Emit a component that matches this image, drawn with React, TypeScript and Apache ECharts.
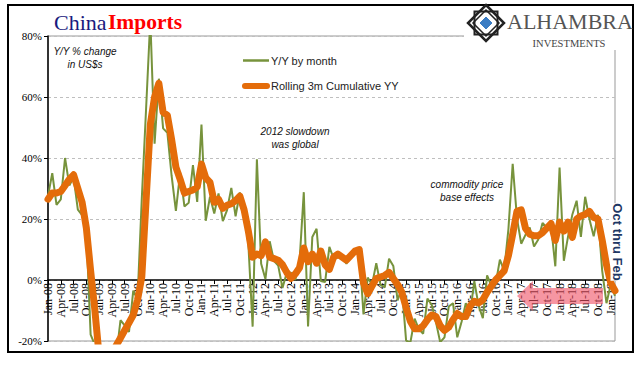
import React, { useEffect, useRef } from "react";
import * as echarts from "echarts";

const monthNames = ["Jan", "Feb", "Mar", "Apr", "May", "Jun", "Jul", "Aug", "Sep", "Oct", "Nov", "Dec"];
const yearLabels = ["08", "09", "10", "11", "12", "13", "14", "15", "16", "17", "18", "19"];
const monthCount = 134; // Jan-08 .. Feb-19

// Y/Y by month (%)
const yyByMonth = [
  27.6, 35.0, 24.6, 26.4, 40.0, 31.0, 33.7, 23.1, 21.3, 15.6, -17.9, -21.3,
  -43.1, -24.1, -25.1, -23.0, -25.2, -13.2, -14.9, -17.0, -3.5, -6.4, 26.7, 55.9,
  85.5, 44.7, 66.0, 49.7, 48.3, 34.1, 22.7, 35.2, 24.1, 25.3, 37.7, 25.6,
  51.0, 19.4, 27.3, 21.8, 28.4, 19.3, 22.9, 30.2, 20.9, 28.7, 22.1, 11.8,
  -15.3, 39.6, 5.3, 0.3, 12.7, 6.3, 4.7, -2.6, 2.4, 2.4, 0.0, 6.0,
  28.8, -15.2, 14.1, 16.8, -0.3, -0.7, 10.9, 7.0, 7.4, 7.6, 5.3, 8.3,
  10.0, 10.1, -11.3, 0.8, -1.6, 5.5, -1.6, -2.4, 7.0, 4.6, -6.7, -2.4,
  -19.9, -20.5, -12.7, -16.2, -17.6, -6.1, -8.1, -13.8, -20.4, -18.8, -8.7, -7.6,
  -18.8, -13.8, -7.6, -10.9, -0.4, -8.4, -12.5, 1.5, -1.9, -1.4, 6.7, 3.1,
  16.7, 38.1, 20.3, 11.9, 14.8, 17.2, 11.0, 13.3, 18.7, 17.2, 17.7, 4.5,
  36.9, 6.3, 14.4, 21.5, 26.0, 14.1, 27.3, 20.0, 14.3, 21.4, 3.0, -7.6,
  -1.5, -5.2,
];

// Rolling 3m Cumulative YY (%)
const rolling3m = [
  26.5, 28.5, 28.5, 29, 31, 33, 34.5, 30, 25.5, 17, 3, -10,
  -25, -29, -30, -24, -21.5, -19, -16.5, -14, -11.5, -6.5, 1, 26,
  51, 60, 64.5, 55, 54, 46, 37, 33, 28.5, 29, 29.5, 30.5,
  38, 33.5, 32, 25.5, 26.5, 23.5, 24.5, 25, 26, 27.5, 23, 16,
  7.5, 8.5, 8, 12.5, 7.5, 7, 6.5, 5, 2.5, 0.5, 2, 4,
  10.5, 6, 8.5, 5.5, 9.5, 5, 3.5, 7.5, 8.5, 7.5, 6.5, 8,
  9.5, 10, -1, -4.5, -2, 0.5, 1, 1.5, 2.5, 0.5, -1.5, -4,
  -9, -13.5, -16, -16, -15, -13, -11.5, -12, -15, -16.5, -15.5, -13,
  -11, -12, -12, -8.5, -7, -7.5, -6.5, -4, -2, 0, 1.5, 3,
  8, 15, 22.5, 23, 17, 15, 14.5, 14.5, 15.5, 17, 18.5, 13,
  19, 16, 19, 14, 20, 21, 21.5, 22.5, 20.5, 20, 13, 5,
  -1, -3.5,
];

const yTicks = { min: -20, max: 80, interval: 20 };

const categories: string[] = [];
for (let i = 0; i < monthCount; i++) {
  categories.push(monthNames[i % 12] + "-" + yearLabels[Math.floor(i / 12)]);
}

const GREEN = "#77933c";
const ORANGE = "#e46c0a";

const GRID_TOP = 36;
const GRID_BOTTOM = 26;
const CHART_H = 367;

export default function App() {
  const ref = useRef<HTMLDivElement>(null);
  useEffect(() => {
    if (!ref.current) return;
    const chart = echarts.init(ref.current, null, { renderer: "svg" });
    const italic = { fontFamily: "Liberation Sans", fontStyle: "italic", fontSize: 10, fill: "#111" };
    const plotH = CHART_H - GRID_TOP - GRID_BOTTOM;
    const zeroOffset = -plotH * (0 - yTicks.min) / (yTicks.max - yTicks.min);
    chart.setOption({
      animation: false,
      backgroundColor: "#fff",
      grid: {
        left: 48, right: 26, top: GRID_TOP, bottom: GRID_BOTTOM,
        show: true, borderColor: "#999", borderWidth: 1,
        containLabel: false, outerBoundsMode: "none",
      },
      xAxis: {
        type: "category",
        data: categories,
        boundaryGap: false,
        position: "bottom",
        offset: zeroOffset,
        axisLine: { onZero: false, lineStyle: { color: "#000", width: 1.5 } },
        axisTick: { interval: 2, length: 4, lineStyle: { color: "#000" } },
        axisLabel: {
          interval: 2,
          rotate: 90,
          fontFamily: "Liberation Serif",
          fontSize: 12,
          color: "#000",
          margin: 3,
        },
        splitLine: { show: false },
      },
      yAxis: {
        type: "value",
        min: yTicks.min,
        max: yTicks.max,
        interval: yTicks.interval,
        axisLine: { show: true, lineStyle: { color: "#000", width: 1.5 } },
        axisTick: { show: true, length: 4, lineStyle: { color: "#000" } },
        axisLabel: { formatter: "{value}%", fontFamily: "Liberation Serif", fontSize: 11, color: "#000", margin: 6 },
        splitLine: { lineStyle: { type: [3, 3], color: "#bfbfbf" } },
      },
      series: [
        {
          name: "Y/Y by month",
          type: "line",
          data: yyByMonth,
          symbol: "none",
          lineStyle: { color: GREEN, width: 2 },
          z: 2,
        },
        {
          name: "Rolling 3m Cumulative YY",
          type: "line",
          data: rolling3m,
          symbol: "none",
          lineStyle: { color: ORANGE, width: 7, cap: "round", join: "round" },
          z: 3,
        },
      ],
      graphic: [
        { type: "rect", shape: { x: 8, y: 5, width: 625, height: 347 }, style: { fill: "none", stroke: "#000", lineWidth: 2 }, z: 50 },
        // title
        { type: "text", x: 54, y: 22, style: { text: "China", fontFamily: "Liberation Serif", fontSize: 22, fill: "#1a1a7e", verticalAlign: "middle" }, z: 50 },
        { type: "text", x: 108, y: 22, style: { text: "Imports", fontFamily: "Liberation Serif", fontWeight: "bold", fontSize: 21.5, fill: "#ff0000", verticalAlign: "middle" }, z: 50 },
        // logo
        { type: "rect", shape: { x: 464, y: 6, width: 167, height: 44 }, style: { fill: "#fff" }, z: 40 },
        { type: "polygon", shape: { points: [[486, 5], [504, 23], [486, 41], [468, 23]] }, style: { fill: "#fff", stroke: "#222", lineWidth: 2.5 }, z: 50 },
        { type: "rect", shape: { x: 474.5, y: 11.5, width: 23, height: 23 }, style: { fill: "none", stroke: "#222", lineWidth: 2 }, z: 50 },
        { type: "polygon", shape: { points: [[486, 10], [499, 23], [486, 36], [473, 23]] }, style: { fill: "none", stroke: "#222", lineWidth: 1.5 }, z: 50 },
        { type: "polygon", shape: { points: [[486, 16], [493, 23], [486, 30], [479, 23]] }, style: { fill: "#3b7dc4", stroke: "#fff", lineWidth: 1 }, z: 51 },
        { type: "text", x: 507, y: 21, style: { text: "ALHAMBRA", fontFamily: "Liberation Serif", fontSize: 22, fill: "#555", verticalAlign: "middle" }, z: 50 },
        { type: "text", x: 569, y: 43, style: { text: "INVESTMENTS", fontFamily: "Liberation Serif", fontSize: 10.5, fill: "#444", align: "center", verticalAlign: "middle" }, z: 50 },
        // legend
        { type: "line", shape: { x1: 243, y1: 60.5, x2: 269, y2: 60.5 }, style: { stroke: GREEN, lineWidth: 2.5 }, z: 50 },
        { type: "text", x: 271, y: 60.5, style: { text: "Y/Y by month", fontFamily: "Liberation Sans", fontSize: 11, fill: "#222", verticalAlign: "middle" }, z: 50 },
        { type: "line", shape: { x1: 245, y1: 86, x2: 267, y2: 86 }, style: { stroke: ORANGE, lineWidth: 6, lineCap: "round" }, z: 50 },
        { type: "text", x: 271, y: 86, style: { text: "Rolling 3m Cumulative YY", fontFamily: "Liberation Sans", fontSize: 11, fill: "#222", verticalAlign: "middle" }, z: 50 },
        // annotations
        { type: "text", x: 85, y: 51, style: { ...italic, text: "Y/Y % change", align: "center", verticalAlign: "middle" }, z: 50 },
        { type: "text", x: 85, y: 64, style: { ...italic, text: "in US$s", align: "center", verticalAlign: "middle" }, z: 50 },
        { type: "text", x: 295, y: 131, style: { ...italic, text: "2012 slowdown", align: "center", verticalAlign: "middle" }, z: 50 },
        { type: "text", x: 295, y: 144, style: { ...italic, text: "was global", align: "center", verticalAlign: "middle" }, z: 50 },
        { type: "text", x: 467, y: 184, style: { ...italic, text: "commodity price", align: "center", verticalAlign: "middle" }, z: 50 },
        { type: "text", x: 467, y: 197, style: { ...italic, text: "base effects", align: "center", verticalAlign: "middle" }, z: 50 },
        {
          type: "text", x: 617, y: 242, rotation: -Math.PI / 2,
          style: { text: "Oct thru Feb", fontFamily: "Liberation Sans", fontWeight: "bold", fontSize: 13, fill: "#1f3864", align: "center", verticalAlign: "middle", backgroundColor: "#fff" },
          z: 50,
        },
        // pink arrow
        {
          type: "polygon",
          shape: { points: [[517, 296], [533, 281], [533, 288], [603, 288], [603, 304], [533, 304], [533, 311]] },
          style: { fill: "rgba(240,80,100,0.6)" },
          z: 60,
        },
      ],
    });
    return () => chart.dispose();
  }, []);
  return <div ref={ref} style={{ position: "fixed", left: 0, top: 0, width: 641, height: 367 }} />;
}
